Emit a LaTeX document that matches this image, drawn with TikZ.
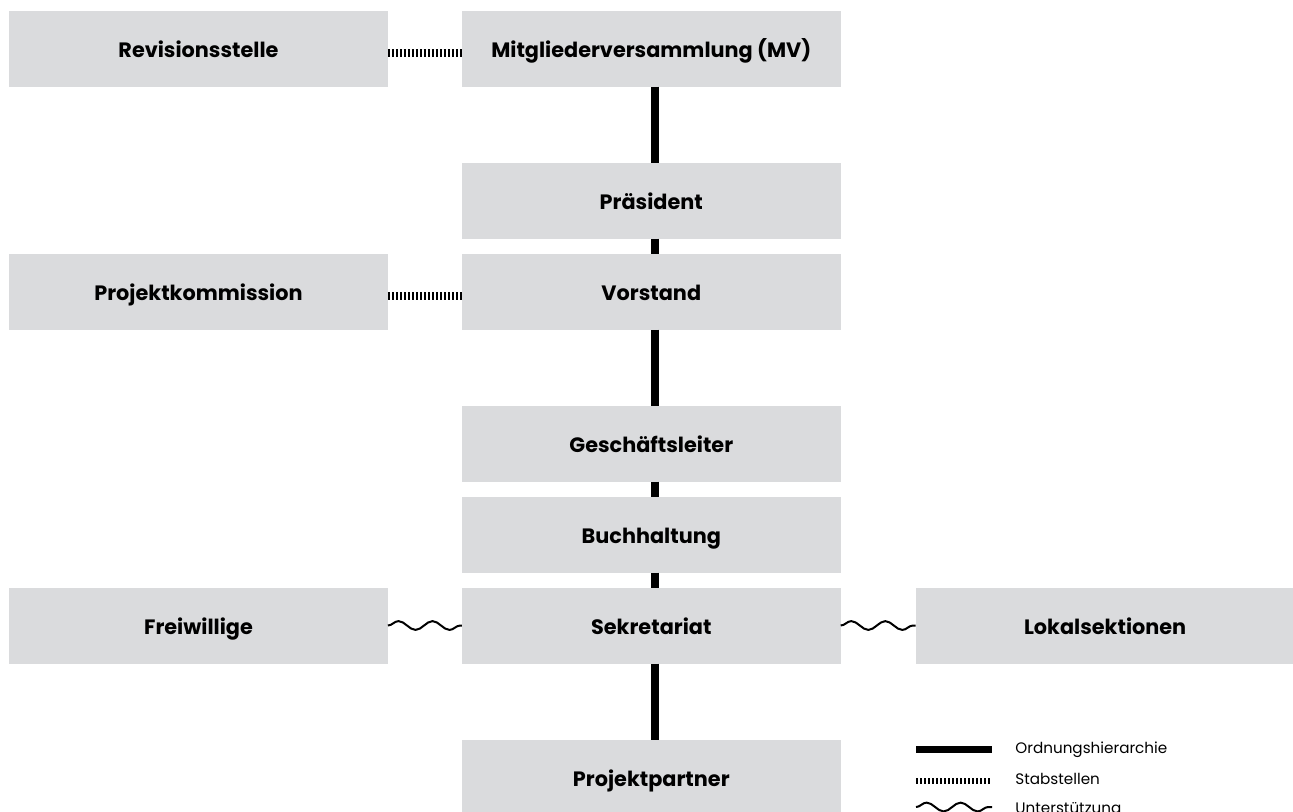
\documentclass[tikz,border=0pt]{standalone}
\usepackage{fontspec}
\setmainfont{Poppins}
\usetikzlibrary{positioning,decorations.pathmorphing}
\definecolor{boxgrey}{RGB}{218,219,221}

\tikzset{
  orgbox/.style={fill=boxgrey, minimum width=189.4pt, minimum height=38pt, inner sep=0pt,
    outer sep=0pt, text height=9pt, text depth=0pt,
    font=\bfseries\fontsize{10.4}{12}\selectfont},
  hier/.style={line width=4pt},
  stab/.style={line width=4pt, dash pattern=on 1pt off 1pt},
  support/.style={line width=1pt, decorate,
    decoration={snake, segment length=17pt, amplitude=2.2pt, pre length=0pt, post length=0pt}},
  legtext/.style={anchor=base west, inner sep=0pt, font=\fontsize{7.6}{9}\selectfont}
}

\begin{document}
\begin{tikzpicture}[x=0.5pt, y=-0.5pt]
    \useasboundingbox (0,0) rectangle (1293,811);

    % main chain
    \node[orgbox] (mv) at (651.3,48.5) {Mitgliederversammlung (MV)};
    \node[orgbox, below=38pt of mv] (praes) {Präsident};
    \node[orgbox, below=7.5pt of praes] (vor) {Vorstand};
    \node[orgbox, below=38pt of vor] (gl) {Geschäftsleiter};
    \node[orgbox, below=7.5pt of gl] (bh) {Buchhaltung};
    \node[orgbox, below=7.5pt of bh] (sek) {Sekretariat};
    \node[orgbox, below=38pt of sek] (pp) {Projektpartner};

    % side boxes
    \node[orgbox, left=37pt of mv] (rev) {Revisionsstelle};
    \node[orgbox, left=37pt of vor] (pk) {Projektkommission};
    \node[orgbox, left=37pt of sek] (frei) {Freiwillige};
    \node[orgbox, right=37.5pt of sek] (lok) {Lokalsektionen};

    \foreach \a/\b in {mv/praes, praes/vor, vor/gl, gl/bh, bh/sek, sek/pp}
        \draw[hier] ([xshift=1.7pt]\a.south) -- ([xshift=1.7pt]\b.north);

    \draw[stab] ([yshift=-2pt]rev.east) -- ([yshift=-2pt]mv.west);
    \draw[stab] ([yshift=-2pt]pk.east) -- ([yshift=-2pt]vor.west);
    \draw[support] (frei) -- (sek);
    \draw[support] (sek) -- (lok);

    % legend
    \coordinate (hierA) at (916,749);
    \coordinate (hierB) at (992,749);
    \coordinate (stabA) at (916,781);
    \coordinate (stabB) at (992,781);
    \coordinate (suppA) at (916,807);
    \coordinate (suppB) at (992,807);
    \draw[hier, line width=3.5pt] (hierA) -- (hierB);
    \draw[stab, line width=3.2pt] (stabA) -- (stabB);
    \draw[support] (suppA) -- (suppB);
    \node[legtext] (lhier) at (1015,753) {Ordnungshierarchie};
    \node[legtext] (lstab) at (1015,784) {Stabstellen};
    \node[legtext] (lsupp) at (1015,813) {Unterstützung};
\end{tikzpicture}
\end{document}
